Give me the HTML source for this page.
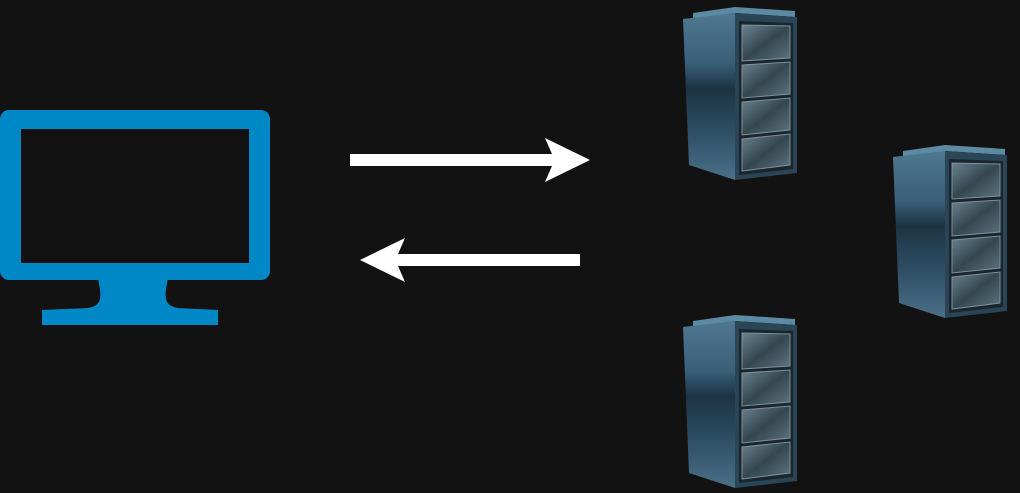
<!DOCTYPE html>
<html><head><style>
html,body{margin:0;padding:0;background:#121212;width:1020px;height:493px;overflow:hidden}
</style></head><body>
<svg width="1020" height="493" viewBox="0 0 1020 493" xmlns="http://www.w3.org/2000/svg">
<defs>
<linearGradient id="side" x1="0" y1="0" x2="0" y2="1">
<stop offset="0" stop-color="#4f7890"/><stop offset="0.3" stop-color="#3a5f78"/><stop offset="0.45" stop-color="#1c3343"/><stop offset="0.7" stop-color="#2d4d62"/><stop offset="1" stop-color="#4a7088"/>
</linearGradient>
<linearGradient id="bay" x1="0" y1="0" x2="1" y2="1">
<stop offset="0" stop-color="#6a8290"/><stop offset="0.5" stop-color="#34474f"/><stop offset="1" stop-color="#5d7480"/>
</linearGradient>
<g id="srv">
<polygon points="10,8 52,2 112,6 112,12 52,8 10,14" fill="#5d8aa3"/>
<polygon points="0,14 52,8 52,175 6,160" fill="url(#side)"/>
<polygon points="52,8 114,12 114,168 52,175" fill="#2a4556"/>
<polygon points="56,16 110,18 110,164 56,170" fill="#1a252c"/>
<g fill="url(#bay)" stroke="#7b909b" stroke-width="1">
<polygon points="59,20 107,21 107,53 59,56"/>
<polygon points="59,60 107,57 107,89 59,93"/>
<polygon points="59,97 107,93 107,125 59,130"/>
<polygon points="59,134 107,129 107,160 59,166"/>
</g>
</g>
</defs>
<use href="#srv" x="683" y="5"/>
<use href="#srv" x="893" y="143"/>
<use href="#srv" x="683" y="313"/>
<rect x="0" y="110" width="270" height="170" rx="9" fill="#0088c6"/>
<rect x="21" y="129" width="228" height="134" fill="#121212"/>
<path d="M98,278 L168,278 C165,295 162,305 178,308 L218,310 L218,325 L42,325 L42,310 L88,308 C104,305 101,295 98,278 Z" fill="#0088c6"/>
<polygon points="350,154 552,154 545,138 590,160 545,182 552,166 350,166" fill="#fff"/>
<polygon points="580,254 398,254 405,238 360,260 405,282 398,266 580,266" fill="#fff"/>
</svg>
</body></html>
